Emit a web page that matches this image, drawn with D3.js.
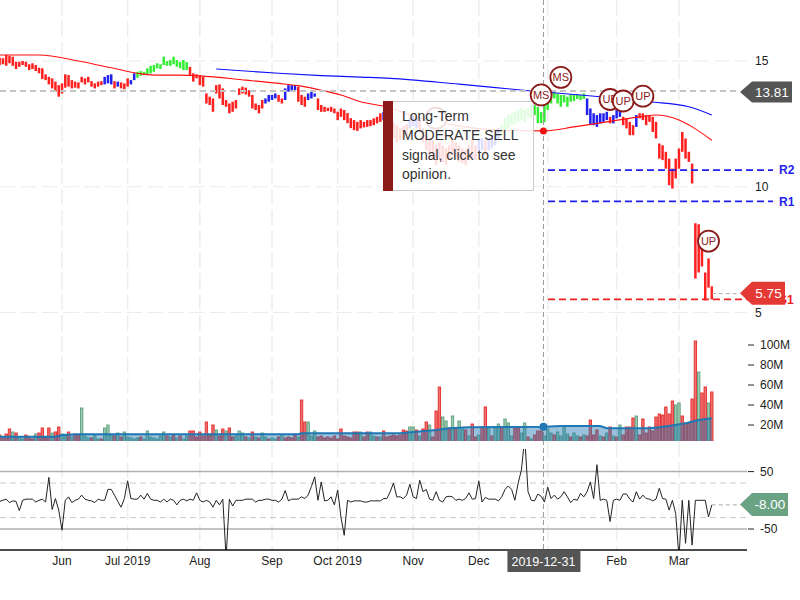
<!DOCTYPE html>
<html><head><meta charset="utf-8">
<script src="https://cdn.jsdelivr.net/npm/d3@7/dist/d3.min.js"></script>
<style>body{margin:0;background:#fff}svg{display:block;font-family:"Liberation Sans",Arial,sans-serif}</style>
</head><body><svg id="c" width="800" height="600"></svg>
<script>
// ---------- DATA ----------
const hi=[15.13,15.11,15.24,15.21,15.17,14.97,14.97,15.00,14.97,14.87,
14.91,14.84,14.73,14.71,14.47,14.37,14.31,14.18,14.04,14.11,
14.47,14.44,14.24,14.18,14.15,14.37,14.31,14.37,14.20,14.11,
14.18,14.20,14.37,14.44,14.47,14.20,14.18,14.15,14.11,14.31,
14.24,14.51,14.57,14.60,14.57,14.71,14.81,14.84,14.91,14.87,
15.17,15.00,15.04,15.17,15.04,14.97,15.04,14.96,14.77,14.51,
14.47,14.44,14.37,13.71,13.58,13.51,14.04,14.07,13.91,13.45,
13.31,13.38,13.45,13.91,13.98,13.94,13.84,13.65,13.31,13.25,
13.45,13.51,13.65,13.65,13.71,13.65,13.51,13.91,14.04,14.04,
14.04,13.98,13.65,13.58,13.71,13.78,13.71,13.51,13.25,13.18,
13.14,13.18,13.11,12.98,13.11,13.05,12.93,12.73,12.65,12.58,
12.65,12.58,12.65,12.65,12.72,12.78,12.92,12.97,12.85,12.73,
12.57,12.45,12.33,12.41,12.49,12.73,12.81,12.73,12.65,12.33,
12.05,11.93,11.85,11.65,11.77,11.65,11.53,11.65,11.85,11.77,
11.65,11.53,11.45,11.65,11.85,11.65,11.85,11.93,11.85,11.93,
12.05,12.17,12.33,12.45,12.73,12.85,12.93,12.97,13.05,13.13,
13.05,13.13,13.25,13.25,13.17,12.97,13.25,13.71,13.78,13.81,
13.71,13.65,13.65,13.58,13.68,13.65,13.68,13.65,13.71,13.51,
13.11,12.92,12.85,12.92,12.92,12.98,12.78,12.85,13.05,13.11,
12.78,12.72,12.58,12.45,12.85,12.92,12.92,12.85,12.85,12.78,
12.58,11.72,11.65,11.39,11.12,10.72,11.12,11.52,12.18,11.92,
11.39,10.92,8.55,8.51,7.75,6.59,7.15,6.04];
const lo=[14.84,14.87,14.81,14.91,14.81,14.68,14.77,14.84,14.77,14.64,
14.68,14.60,14.51,14.28,14.24,14.07,13.91,13.78,13.58,13.71,
13.94,13.98,13.91,13.94,13.91,14.15,14.07,14.15,13.98,13.91,
13.98,14.04,14.07,14.11,14.07,13.91,13.98,13.91,13.88,13.98,
14.07,14.24,14.33,14.41,14.44,14.47,14.51,14.57,14.71,14.68,
14.84,14.81,14.81,14.87,14.77,14.71,14.64,14.64,14.44,14.18,
14.31,14.04,13.98,13.31,13.25,12.98,13.71,13.51,13.25,13.18,
12.92,12.98,13.11,13.65,13.71,13.67,13.58,13.11,13.05,12.92,
13.11,13.31,13.38,13.45,13.51,13.38,13.31,13.45,13.78,13.84,
13.84,13.38,13.25,13.18,13.45,13.51,13.58,13.05,12.98,12.98,
13.01,12.98,12.92,12.65,12.78,12.65,12.53,12.33,12.25,12.22,
12.32,12.36,12.38,12.41,12.45,12.52,12.58,12.65,12.45,12.25,
11.93,11.77,11.85,11.93,12.05,12.33,12.41,12.33,12.17,11.77,
11.45,11.25,11.06,10.86,11.06,10.98,10.86,11.06,11.25,11.13,
10.98,10.94,10.86,11.06,11.13,11.06,11.37,11.45,11.25,11.45,
11.53,11.65,11.85,12.05,12.25,12.33,12.45,12.49,12.57,12.65,
12.57,12.73,12.73,12.85,12.53,12.53,12.57,13.05,13.31,13.51,
13.31,13.18,13.35,13.18,13.38,13.41,13.49,13.45,13.49,12.85,
12.45,12.45,12.38,12.52,12.58,12.65,12.52,12.52,12.72,12.78,
12.45,12.32,12.05,12.05,12.38,12.72,12.65,12.45,12.58,12.18,
11.92,11.12,11.06,10.72,10.06,9.93,10.33,10.72,11.39,11.12,
10.99,10.13,6.35,6.59,6.83,5.48,5.99,5.52];
// trend colour runs (r = red, b = blue, g = green), in bar order
const colorRuns=[["r",32],["b",3],["r",1],["b",1],["r",3],["b",2],["g",16],["r",23],["b",4],["r",2],
["b",4],["r",3],["b",3],["r",20],["b",1],["r",7],["b",3],["r",18],["b",2],["r",1],["b",4],["g",26],
["b",7],["r",1],["b",3],["r",4],["b",1],["r",23]];
const volume=[10,8,11,16,13,12,8,6,10,7,
6,11,12,17,8,17,12,13,18,11,
9,13,8,11,10,37,9,7,7,10,
6,6,17,20,10,9,12,8,13,8,
7,6,7,8,6,14,8,7,6,9,
13,9,8,10,7,9,6,9,14,14,
8,13,9,23,10,20,15,9,16,14,
17,8,9,14,12,8,7,13,8,7,
12,8,6,7,6,8,10,7,8,7,
11,8,45,23,23,9,14,8,9,7,
8,7,9,6,16,9,8,7,13,13,
13,8,13,13,9,8,8,14,8,9,
10,9,10,15,14,18,18,15,9,16,
23,20,8,34,58,28,24,17,29,17,
24,16,15,9,21,8,10,18,38,18,
9,18,21,18,26,22,9,17,17,12,
22,8,6,10,14,14,9,16,12,10,
13,9,18,11,8,12,9,8,10,9,
25,10,15,9,8,12,18,9,8,20,
10,18,18,27,29,10,26,12,18,14,
28,31,30,38,31,44,40,42,29,22,
22,46,104,73,52,58,42,53];
const volColor=("rrrrgrggrr rgrrrrgrrg grgrrgggrg grgggrgrgg gggrgggggg grgrgrggrr rrrrrrgrrg rrgggrgrgr "+
"ggrggrgrrr rgrrgggrrr rrrrrrrrrr grrggrgrrr rrrrrggrgr rgrrrggrgr ggrgrrgrrg rggrgggrrg "+
"grgrrrgggr ggggrggrgr rrrgrgrgrg rrrrgrrrrr rrrrrrggrr rrrgrrgr").replace(/ /g,"").split("");
const osc=[-2,0,2,-4,-1,-2,-18,0,2,2,
2,-3,0,2,-3,40,-16,3,-17,-52,
0,6,-4,0,2,9,2,0,-1,-4,
2,0,0,19,19,9,-2,-12,3,34,
3,2,2,9,2,12,2,0,0,-3,
2,-3,2,0,-8,0,2,-1,2,0,
13,0,-3,0,-3,-12,0,-8,2,-100,
2,-10,0,0,0,2,2,2,-3,0,
0,2,2,0,0,-3,2,17,-1,2,
2,2,6,3,9,24,41,0,32,-1,
0,6,-8,18,-29,-61,0,-3,-1,-1,
-1,-3,-3,-1,-1,-1,-1,3,3,15,
30,6,6,3,9,28,6,3,35,15,
19,2,0,15,0,-3,6,7,6,0,
2,0,3,13,2,3,34,-3,5,2,
2,2,-1,6,19,25,19,0,30,53,
110,15,0,-1,11,7,-3,23,3,9,
2,6,15,6,-4,2,0,12,6,15,
32,3,62,0,2,0,-37,0,2,0,
11,11,2,-3,15,2,9,3,2,-1,
2,21,3,2,-17,0,-23,-100,0,-75,
0,-78,0,0,0,0,-29,-8];
// moving averages (bar index, value)
const redMA=[[0,15.24],[12,15.24],[24,15.0],[34,14.73],[42,14.51],[47,14.44],[55,14.44],[61,14.41],[75,14.24],[85,14.11],
[91,14.02],[98,13.84],[104,13.65],[110,13.38],[118,13.17],[128,12.73],[140,12.41],[152,12.25],[166,12.22],[175,12.38],
[185,12.58],[195,12.78],[200,12.85],[207,12.65],[211,12.38],[217,11.85]];
const blueMA=[[66,14.68],[85,14.51],[98,14.42],[110,14.36],[119,14.31],[140,14.08],[162,13.81],[175,13.67],[183,13.58],[198,13.38],[210,13.18],[217,12.85]];
const volMA=[[0,8.3],[17,8.3],[19,10],[24,10.7],[91,10.7],[92,11.7],[122,11.7],[133,15],[137,16.7],[143,17.7],[166,18.3],
[171,19],[183,19],[185,16.7],[198,16.7],[201,17.7],[204,19],[209,21.7],[213,25],[217,26.7]];
const signals=[{i:133,p:12.73,t:""},{i:165,p:13.65,t:"MS"},{i:171,p:14.35,t:"MS"},{i:186,p:13.47,t:"UP"},{i:190,p:13.41,t:"UP"},{i:196,p:13.6,t:"UP"},{i:216,p:7.84,t:"UP"}];
const monthTicks=[[19,"Jun"],[39,"Jul 2019"],[61,"Aug"],[83,"Sep"],[103,"Oct 2019"],[126,"Nov"],[146,"Dec"],[167,""],[188,"Feb"],[207,"Mar"]];
const priceTicks=[15,10,5];
const volTicks=[20,40,60,80,100];
const oscTicks=[50,-50];
const levels=[{name:"R2",p:10.66,c:"#1f1fee"},{name:"R1",p:9.42,c:"#1f1fee"},{name:"S1",p:5.52,c:"#ee2020"}];
const crossIdx=166, crossPrice=13.81, crossDate="2019-12-31";
const lastPrice=5.75, lastOsc=-8.00;
const tipLines=["Long-Term","MODERATE SELL","signal, click to see","opinion."];

// ---------- CHART ----------
const barColor=[]; colorRuns.forEach(([c,n])=>{for(let k=0;k<n;k++)barColor.push(c);});
const COL={r:"#ff2020",b:"#2020f0",g:"#33ee33"};
const N=hi.length;
const svg=d3.select("#c");
const x=d3.scaleLinear().domain([0,N-1]).range([-0.36,711.8]);
const yP=d3.scaleLinear().domain([5,15]).range([312.5,61]);
const yV=d3.scaleLinear().domain([0,100]).range([445,345]);
const yO=d3.scaleLinear().domain([-50,50]).range([529,471.6]);
const R=747;
const defs=svg.append("defs");
defs.append("clipPath").attr("id","cp").append("rect").attr("x",0).attr("y",0).attr("width",R).attr("height",316);
defs.append("clipPath").attr("id","cv").append("rect").attr("x",0).attr("y",320).attr("width",R).attr("height",121);
defs.append("clipPath").attr("id","co").append("rect").attr("x",0).attr("y",449).attr("width",R).attr("height",101);

// vertical grid
svg.append("g").selectAll("line").data(monthTicks).join("line")
 .attr("x1",d=>x(d[0])).attr("x2",d=>x(d[0])).attr("y1",0).attr("y2",550)
 .attr("stroke","#ededed").attr("stroke-width",1.5).attr("stroke-dasharray","16,5");
// price horizontal grid
svg.append("g").selectAll("line").data(priceTicks).join("line")
 .attr("x1",0).attr("x2",R).attr("y1",d=>yP(d)).attr("y2",d=>yP(d))
 .attr("stroke","#ececec").attr("stroke-width",1.2).attr("stroke-dasharray","16,5");
// oscillator guide lines
[30,-30].forEach(v=>svg.append("line").attr("x1",0).attr("x2",R).attr("y1",yO(v)).attr("y2",yO(v))
 .attr("stroke","#cccccc").attr("stroke-dasharray","6,4"));
oscTicks.forEach(v=>svg.append("line").attr("x1",0).attr("x2",R).attr("y1",yO(v)).attr("y2",yO(v))
 .attr("stroke","#b0b0b0").attr("stroke-width",1.5));

// price bars
const gp=svg.append("g").attr("clip-path","url(#cp)");
gp.selectAll("rect").data(hi).join("rect")
 .attr("x",(d,i)=>x(i)-1.25).attr("width",2.5)
 .attr("y",(d,i)=>yP(hi[i])).attr("height",(d,i)=>Math.max(1,yP(lo[i])-yP(hi[i])))
 .attr("fill",(d,i)=>COL[barColor[i]]);
const ln=d3.line().x(d=>x(d[0])).y(d=>yP(d[1])).curve(d3.curveMonotoneX);
gp.append("path").attr("d",ln(redMA)).attr("fill","none").attr("stroke","#ff1010").attr("stroke-width",1.1);
gp.append("path").attr("d",ln(blueMA)).attr("fill","none").attr("stroke","#1010ff").attr("stroke-width",1.1);

function marker(s){
  const g=svg.append("g").attr("transform",`translate(${x(s.i)},${yP(s.p)})`);
  g.append("circle").attr("r",10.5).attr("fill","#fff").attr("stroke","#8b1a1a").attr("stroke-width",1.8);
  if(s.t) g.append("text").attr("text-anchor","middle").attr("dy","0.36em").attr("font-size",11)
    .attr("fill","#8b1a1a").text(s.t);
}
marker(signals[0]);

// tooltip
svg.append("rect").attr("x",383.5).attr("y",101.5).attr("width",150).attr("height",89)
 .attr("fill","#fff").attr("fill-opacity",0.85).attr("stroke","#cccccc");
svg.append("rect").attr("x",383).attr("y",101).attr("width",10).attr("height",90).attr("fill","#8b1a1a");
svg.append("g").selectAll("text").data(tipLines).join("text")
 .attr("x",402).attr("y",(d,i)=>120.5+i*19.6).attr("font-size",14).attr("fill","#333").text(d=>d);

// support/resistance
levels.forEach(l=>{
  svg.append("line").attr("x1",548).attr("x2",773).attr("y1",yP(l.p)).attr("y2",yP(l.p))
   .attr("stroke",l.c).attr("stroke-width",1.6).attr("stroke-dasharray","7,4");
  svg.append("text").attr("x",779).attr("y",yP(l.p)).attr("dy","0.36em").attr("font-size",12)
   .attr("font-weight","bold").attr("fill",l.c).text(l.name);
});

// crosshair
svg.append("line").attr("x1",0).attr("x2",740).attr("y1",yP(crossPrice)).attr("y2",yP(crossPrice))
 .attr("stroke","#c4c4c4").attr("stroke-width",2).attr("stroke-dasharray","6,4");
svg.append("line").attr("x1",x(crossIdx)-1).attr("x2",x(crossIdx)-1).attr("y1",0).attr("y2",550)
 .attr("stroke","#999").attr("stroke-dasharray","5,3");
const redAt=redMA.find(d=>d[0]===crossIdx);
svg.append("circle").attr("cx",x(crossIdx)-1).attr("cy",yP(redAt[1])).attr("r",3.5).attr("fill","#ee1111");
signals.slice(1).forEach(marker);

// volume
const gv=svg.append("g").attr("clip-path","url(#cv)");
gv.selectAll("rect").data(volume).join("rect")
 .attr("x",(d,i)=>x(i)-1.2).attr("width",2.4)
 .attr("y",d=>yV(d)).attr("height",d=>445-yV(d))
 .attr("fill",(d,i)=>volColor[i]==="r"?"#f07070":"#9ccbb0")
 .attr("stroke",(d,i)=>volColor[i]==="r"?"#e52d2d":"#5e9e7e").attr("stroke-width",0.9);
const av=d3.area().x(d=>x(d[0])).y0(445).y1(d=>yV(d[1]));
gv.append("path").attr("d",av(volMA)).attr("fill","#1f77b4").attr("fill-opacity",0.45);
gv.append("path").attr("d",d3.line().x(d=>x(d[0])).y(d=>yV(d[1]))(volMA)).attr("fill","none")
 .attr("stroke","#1f77b4").attr("stroke-width",2);
const vAt=volMA.find(d=>d[0]===crossIdx);
svg.append("circle").attr("cx",x(crossIdx)-1).attr("cy",yV(vAt[1])).attr("r",4).attr("fill","#1f77b4");

// oscillator
svg.append("g").attr("clip-path","url(#co)").append("path")
 .attr("d",d3.line().x((d,i)=>x(i)).y(d=>yO(d))(osc)).attr("fill","none").attr("stroke","#222").attr("stroke-width",1);
svg.append("line").attr("x1",0).attr("x2",R).attr("y1",550).attr("y2",550).attr("stroke","#111").attr("stroke-width",1.5);

// last value guides
svg.append("line").attr("x1",x(N-1)).attr("x2",740).attr("y1",yP(lastPrice)).attr("y2",yP(lastPrice))
 .attr("stroke","#aaa").attr("stroke-dasharray","4,3");
svg.append("line").attr("x1",x(N-1)).attr("x2",740).attr("y1",yO(lastOsc)).attr("y2",yO(lastOsc))
 .attr("stroke","#aaa").attr("stroke-dasharray","4,3");

// axes labels
svg.append("g").selectAll("text").data(priceTicks).join("text")
 .attr("x",755).attr("y",d=>yP(d)).attr("dy","0.36em").attr("font-size",12).attr("fill","#222").text(d=>d);
volTicks.forEach(v=>{
  svg.append("line").attr("x1",748).attr("x2",754).attr("y1",yV(v)).attr("y2",yV(v)).attr("stroke","#222");
  svg.append("text").attr("x",760).attr("y",yV(v)).attr("dy","0.36em").attr("font-size",12).attr("fill","#222").text(v+"M");
});
oscTicks.forEach(v=>{
  svg.append("line").attr("x1",748).attr("x2",754).attr("y1",yO(v)).attr("y2",yO(v)).attr("stroke","#222");
  svg.append("text").attr("x",760).attr("y",yO(v)).attr("dy","0.36em").attr("font-size",12).attr("fill","#222").text(v);
});
svg.append("g").selectAll("text").data(monthTicks.filter(d=>d[1])).join("text")
 .attr("x",d=>x(d[0])).attr("y",565).attr("text-anchor","middle").attr("font-size",12).attr("fill","#222").text(d=>d[1]);

// date label
svg.append("rect").attr("x",x(crossIdx)-37).attr("y",550).attr("width",73).attr("height",22).attr("fill","#555");
svg.append("text").attr("x",x(crossIdx)-1).attr("y",566).attr("text-anchor","middle").attr("font-size",12.5)
 .attr("fill","#fff").text(crossDate);

// value flags
function flag(yc,w,h,color,txt){
  const x0=740;
  svg.append("path").attr("d",`M${x0},${yc}L${x0+12},${yc-h/2}H${x0+w}V${yc+h/2}H${x0+12}Z`).attr("fill",color);
  svg.append("text").attr("x",x0+12+(w-12)/2).attr("y",yc).attr("dy","0.36em").attr("text-anchor","middle")
   .attr("font-size",13.5).attr("fill","#fff").text(txt);
}
flag(yP(crossPrice)+1,52,21,"#555",crossPrice.toFixed(2));
flag(yP(lastPrice)-0.5,45,23,"#e53935",lastPrice.toFixed(2));
flag(yO(lastOsc)-0.5,48,23,"#6aa383",lastOsc.toFixed(2));
</script></body></html>
